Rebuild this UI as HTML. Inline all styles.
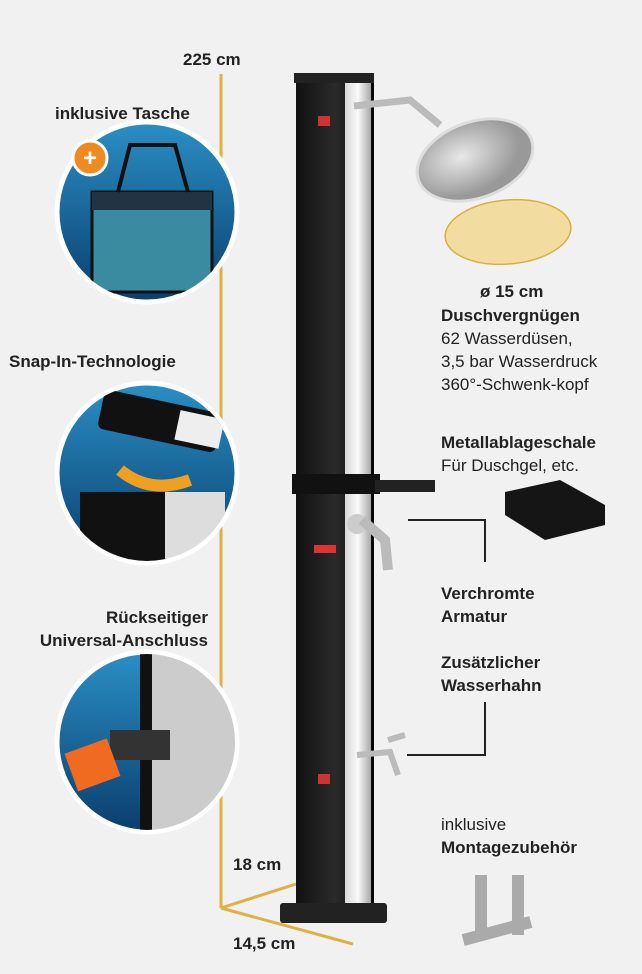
<!DOCTYPE html>
<html><head><meta charset="utf-8"><style>
body{margin:0;width:642px;height:974px;background:#f1f1f1;position:relative;overflow:hidden;font-family:"Liberation Sans",sans-serif;color:#222}
.t{position:absolute;font-size:17px;font-weight:bold;line-height:23px}
.n{font-weight:normal}
</style></head><body>
<svg width="642" height="974" style="position:absolute;left:0;top:0">
<defs>
<linearGradient id="bl" x1="0" x2="0" y1="0" y2="1"><stop offset="0" stop-color="#2a8fc4"/><stop offset="1" stop-color="#0a3e6e"/></linearGradient>
<linearGradient id="sv" x1="0" x2="1"><stop offset="0" stop-color="#d8d8d8"/><stop offset=".5" stop-color="#fafafa"/><stop offset="1" stop-color="#a8a8a8"/></linearGradient>
<linearGradient id="bk" x1="0" x2="1"><stop offset="0" stop-color="#111"/><stop offset=".5" stop-color="#2a2a2a"/><stop offset="1" stop-color="#050505"/></linearGradient>
<radialGradient id="sh" cx=".4" cy=".4"><stop offset="0" stop-color="#e8e8e8"/><stop offset="1" stop-color="#999"/></radialGradient>
<clipPath id="c1"><circle cx="147" cy="212" r="88"/></clipPath>
<clipPath id="c2"><circle cx="147" cy="473" r="88"/></clipPath>
<clipPath id="c3"><circle cx="147" cy="742" r="88"/></clipPath>
</defs>
<g stroke="#e0b040" stroke-width="3" fill="none">
<line x1="221" y1="74" x2="221" y2="908"/>
<line x1="221" y1="908" x2="296" y2="884"/>
<line x1="221" y1="908" x2="353" y2="944"/>
</g>
<g stroke="#fff" stroke-width="5">
<circle cx="147" cy="212" r="90" fill="url(#bl)"/>
<circle cx="147" cy="473" r="90" fill="url(#bl)"/>
<circle cx="147" cy="742" r="90" fill="url(#bl)"/>
</g>
<g clip-path="url(#c1)">
<rect x="92" y="192" width="120" height="100" fill="#3a8aa0" stroke="#111" stroke-width="3"/>
<rect x="92" y="192" width="120" height="18" fill="#234"/>
<path d="M118 192 L130 145 L175 145 L188 192" stroke="#111" stroke-width="4" fill="none"/>
</g>
<circle cx="90" cy="158" r="17" fill="#f08a20" stroke="#fff" stroke-width="3"/>
<text x="90" y="166" font-size="24" fill="#fff" text-anchor="middle" font-weight="bold" font-family="Liberation Sans">+</text>
<g clip-path="url(#c2)">
<rect x="100" y="400" width="120" height="40" rx="6" fill="#111" transform="rotate(12 155 420)"/>
<rect x="178" y="405" width="45" height="30" fill="#eee" transform="rotate(12 155 420)"/>
<path d="M120 470 Q150 495 190 480" stroke="#f0a020" stroke-width="12" fill="none"/>
<rect x="80" y="492" width="88" height="80" fill="#111"/>
<rect x="165" y="492" width="60" height="80" fill="#ddd"/>
</g>
<g clip-path="url(#c3)">
<rect x="150" y="640" width="90" height="200" fill="#ccc"/>
<rect x="140" y="640" width="12" height="200" fill="#111"/>
<rect x="110" y="730" width="60" height="30" fill="#333"/>
<rect x="70" y="745" width="45" height="40" fill="#f06a20" transform="rotate(-20 92 765)"/>
</g>
<rect x="296" y="75" width="78" height="830" fill="url(#bk)"/>
<rect x="345" y="80" width="26" height="825" fill="url(#sv)"/>
<rect x="294" y="73" width="80" height="10" fill="#222"/>
<rect x="280" y="903" width="107" height="20" rx="3" fill="#222"/>
<rect x="318" y="116" width="12" height="10" fill="#c33"/>
<rect x="318" y="774" width="12" height="10" fill="#c33"/>
<rect x="314" y="545" width="22" height="8" fill="#d33"/>
<path d="M354 106 L410 100 L440 125" stroke="#bbb" stroke-width="7" fill="none"/>
<ellipse cx="475" cy="160" rx="60" ry="38" fill="url(#sh)" stroke="#ddd" stroke-width="3" transform="rotate(-20 475 160)"/>
<ellipse cx="508" cy="232" rx="63" ry="32" fill="#f2dca0" stroke="#d9b040" stroke-width="1.5" transform="rotate(-5 508 232)"/>
<rect x="292" y="474" width="88" height="20" fill="#111"/>
<rect x="375" y="480" width="60" height="12" fill="#222"/>
<path d="M505 492 L560 480 L605 505 L605 525 L545 540 L505 515Z" fill="#151515"/>
<circle cx="357" cy="524" r="10" fill="#ccc"/>
<path d="M362 520 L385 540 L388 570" stroke="#bbb" stroke-width="10" fill="none"/>
<path d="M357 755 L390 752 L398 775 M388 740 L405 735" stroke="#bbb" stroke-width="6" fill="none"/>
<g stroke="#222" stroke-width="2" fill="none">
<polyline points="408,520 485,520 485,562"/>
<polyline points="407,755 485,755 485,702"/>
</g>
<g fill="#aaa"><rect x="475" y="875" width="12" height="60"/><rect x="512" y="875" width="12" height="60"/><rect x="462" y="925" width="70" height="12" transform="rotate(-15 497 931)"/></g>
</svg>
<div class="t" style="left:183px;top:48px">225 cm</div>
<div class="t" style="left:55px;top:102px">inklusive Tasche</div>
<div class="t" style="left:9px;top:350px">Snap-In-Technologie</div>
<div class="t" style="left:25px;top:606px;text-align:right;width:183px">Rückseitiger<br>Universal-Anschluss</div>
<div class="t" style="left:480px;top:280px">ø 15 cm</div>
<div class="t" style="left:441px;top:304px">Duschvergnügen<br><span class="n">62 Wasserdüsen,<br>3,5 bar Wasserdruck<br>360°-Schwenk-kopf</span></div>
<div class="t" style="left:441px;top:431px">Metallablageschale<br><span class="n">Für Duschgel, etc.</span></div>
<div class="t" style="left:441px;top:582px">Verchromte<br>Armatur</div>
<div class="t" style="left:441px;top:651px">Zusätzlicher<br>Wasserhahn</div>
<div class="t" style="left:441px;top:813px"><span class="n">inklusive</span><br>Montagezubehör</div>
<div class="t" style="left:233px;top:853px">18 cm</div>
<div class="t" style="left:233px;top:932px">14,5 cm</div>
</body></html>
